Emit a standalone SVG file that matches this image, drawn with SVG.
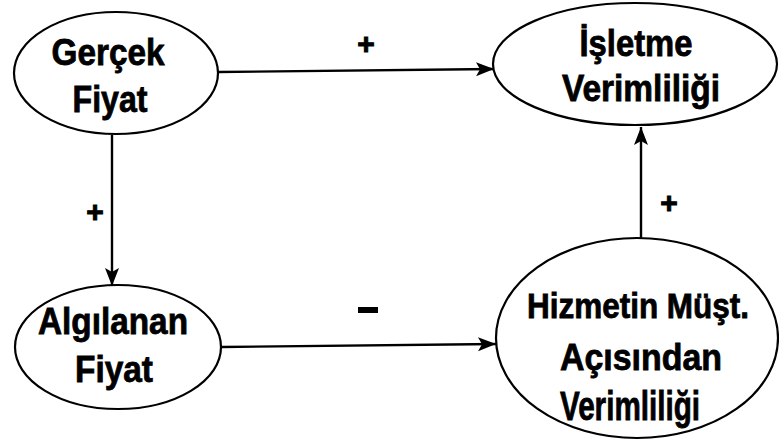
<svg xmlns="http://www.w3.org/2000/svg" width="779" height="444" viewBox="0 0 779 444">
<defs>
<style>
.node{fill:#fff;stroke:#000;stroke-width:2.2}
.lbl{font-family:"Liberation Sans",Arial,sans-serif;font-weight:bold;font-size:37px;fill:#000;stroke:#000;stroke-width:0.8;text-anchor:middle}
.sign{font-family:"Liberation Sans",Arial,sans-serif;font-weight:bold;font-size:30px;fill:#000;stroke:#000;stroke-width:1;text-anchor:middle}
.edge{stroke:#000;stroke-width:2.4;fill:none;marker-end:url(#ah)}
</style>
<marker id="ah" markerUnits="userSpaceOnUse" markerWidth="20" markerHeight="16" refX="18" refY="8" orient="auto">
<path d="M0,1 L18,8 L0,15 L4,8 Z" fill="#000"/>
</marker>
</defs>
<rect width="779" height="444" fill="#fff"/>
<g id="connectors">
<line class="edge" x1="218" y1="72" x2="494" y2="69"/>
<line class="edge" x1="112" y1="135" x2="112" y2="286"/>
<line class="edge" x1="222" y1="347" x2="496" y2="344"/>
<line class="edge" x1="641" y1="238" x2="641" y2="127"/>
<text class="sign" x="366" y="54">+</text>
<text class="sign" x="95" y="222">+</text>
<text class="sign" x="669" y="213">+</text>
<rect x="358" y="307" width="20" height="6" fill="#000"/>
</g>
<g id="gercek">
<ellipse class="node" cx="116" cy="73" rx="102" ry="61"/>
<text class="lbl" x="108" y="65" textLength="113" lengthAdjust="spacingAndGlyphs">Gerçek</text>
<text class="lbl" x="110" y="112" textLength="75" lengthAdjust="spacingAndGlyphs">Fiyat</text>
</g>
<g id="isletme">
<ellipse class="node" cx="635" cy="64" rx="142" ry="61"/>
<text class="lbl" x="636" y="56" textLength="113" lengthAdjust="spacingAndGlyphs">İşletme</text>
<text class="lbl" x="641" y="101" textLength="158" lengthAdjust="spacingAndGlyphs">Verimliliği</text>
</g>
<g id="algilanan">
<ellipse class="node" cx="118" cy="347" rx="103" ry="62"/>
<text class="lbl" x="113" y="334" textLength="150" lengthAdjust="spacingAndGlyphs">Algılanan</text>
<text class="lbl" x="114" y="382" textLength="78" lengthAdjust="spacingAndGlyphs">Fiyat</text>
</g>
<g id="hizmetin">
<ellipse class="node" cx="637" cy="338" rx="141" ry="100"/>
<text class="lbl" x="638" y="318" style="font-size:35px" textLength="222" lengthAdjust="spacingAndGlyphs">Hizmetin Müşt.</text>
<text class="lbl" x="641" y="370" textLength="162" lengthAdjust="spacingAndGlyphs">Açısından</text>
<text class="lbl" x="630" y="420" style="font-size:40px" textLength="140" lengthAdjust="spacingAndGlyphs">Verimliliği</text>
</g>
</svg>
